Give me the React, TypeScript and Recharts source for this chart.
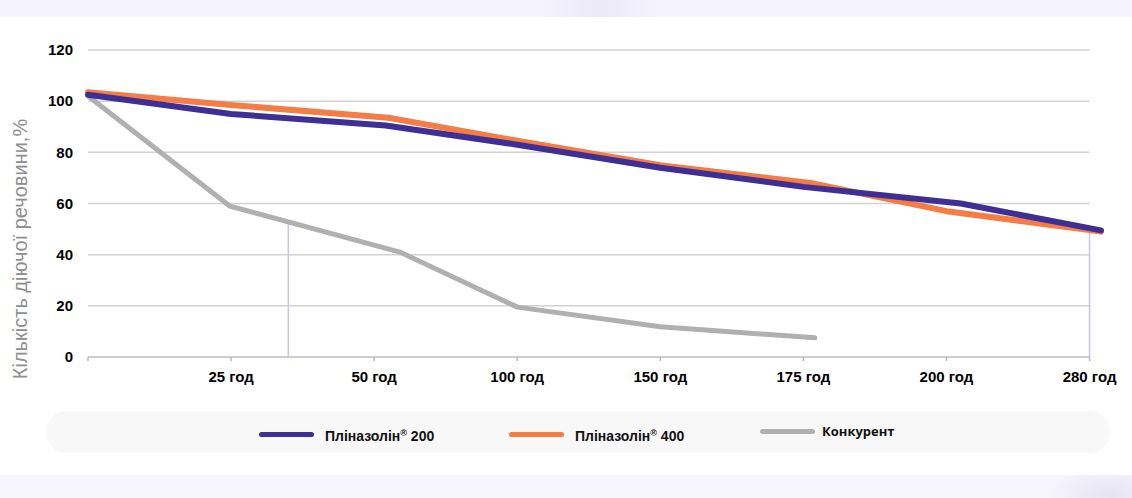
import React from 'react';
import { Legend, Line, LineChart, ReferenceLine, XAxis, YAxis } from 'recharts';

const xLabels = ['', '25 год', '50 год', '100 год', '150 год', '175 год', '200 год', '280 год'];
const xTicks = [0, 1, 2, 3, 4, 5, 6, 7];
const yTicks = [0, 20, 40, 60, 80, 100, 120];

const pl200X = [0, 1, 2.08, 3, 4, 5, 6.1, 7.08];
const pl200Y = [102.5, 95, 90.5, 83, 74, 66.5, 60, 49.5];
const pl400X = [0, 1, 2.1, 3, 4, 5.05, 6, 7.08];
const pl400Y = [103.5, 98.5, 93.5, 84.5, 75, 68, 57, 49];
const compX = [0, 0.99, 2.18, 3, 4, 5.08];
const compY = [102, 59, 41, 19.5, 11.8, 7.5];

// lavender markers: x position and height they reach
const markerX = [1.4, 7.0];
const markerY = [52.5, 49.6];

const toPoints = (xs: number[], ys: number[]) => xs.map((x, i) => ({ x, y: ys[i] }));

const series = [
  { key: 'comp', name: 'Конкурент', color: '#b0b0b0', width: 5, data: toPoints(compX, compY) },
  { key: 'p400', name: 'Пліназолін® 400', color: '#f47d45', width: 6, data: toPoints(pl400X, pl400Y) },
  { key: 'p200', name: 'Пліназолін® 200', color: '#3d2f93', width: 6, data: toPoints(pl200X, pl200Y) },
];

const legendOrder = ['p200', 'p400', 'comp'];
const legendLeft = [213, 463, 714];

function LegendBox() {
  return (
    <div
      style={{
        position: 'relative',
        height: 42,
        background: '#f8f8f8',
        borderRadius: 21,
      }}
    >
      {legendOrder.map((k, i) => {
        const s = series.find((d) => d.key === k)!;
        const [base, num] = s.name.includes('®') ? s.name.split('®') : [s.name, ''];
        const isComp = k === 'comp';
        return (
          <div
            key={k}
            style={{
              position: 'absolute',
              left: legendLeft[i],
              top: isComp ? 13 : 15,
              display: 'flex',
              alignItems: 'center',
              whiteSpace: 'nowrap',
            }}
          >
            <span
              style={{
                display: 'inline-block',
                width: 55,
                height: 5,
                borderRadius: 3,
                background: s.color,
                marginRight: isComp ? 7 : 11,
              }}
            />
            <span
              style={{
                fontFamily: isComp ? '"Open Sans", sans-serif' : '"Liberation Sans", Arial, sans-serif',
                fontWeight: 700,
                fontSize: isComp ? 13 : 14,
                color: '#111',
                lineHeight: '14px',
              }}
            >
              {base}
              {num !== '' && (
                <>
                  <sup style={{ fontSize: 9, verticalAlign: 5 }}>®</sup>
                  {num}
                </>
              )}
            </span>
          </div>
        );
      })}
    </div>
  );
}

const YLabel = () => (
  <text
    x={20}
    y={249}
    transform="rotate(-90, 20, 249)"
    textAnchor="middle"
    dominantBaseline="central"
    fill="#8e8e8e"
    fontSize={20}
    fontFamily='"Liberation Sans", Arial, sans-serif'
  >
    Кількість діючої речовини,%
  </text>
);

export default function App() {
  const tickFont = { fill: '#000', fontSize: 15, fontWeight: 700, fontFamily: '"Liberation Sans", Arial, sans-serif' };
  return (
    <div style={{ position: 'absolute', left: 0, top: 0, width: 1132, height: 498, background: '#fff', overflow: 'hidden' }}>
      <div
        style={{
          position: 'absolute',
          left: 0,
          top: 0,
          width: 1132,
          height: 17,
          background: 'radial-gradient(ellipse 60px 30px at 600px 8px, #ebe8f8, #f5f3fd)',
        }}
      />
      <div
        style={{
          position: 'absolute',
          left: 0,
          top: 475,
          width: 1132,
          height: 23,
          background: 'radial-gradient(ellipse 60px 30px at 1110px 20px, #e6e3f3, #f6f4fd)',
        }}
      />
      <div style={{ position: 'absolute', left: 0, top: 0 }}>
        <LineChart width={1132} height={498} margin={{ top: 50, right: 31, bottom: 69, left: 0 }}>
          <XAxis
            type="number"
            dataKey="x"
            domain={[0, 7.08]}
            ticks={xTicks}
            interval={0}
            tickFormatter={(v: number) => xLabels[v] ?? ''}
            axisLine={false}
            tickLine={{ stroke: '#b8b8b8', strokeWidth: 1.5 }}
            tickSize={4}
            tickMargin={10}
            height={30}
            tick={tickFont}
          />
          <YAxis
            type="number"
            domain={[0, 120]}
            ticks={yTicks}
            interval={0}
            width={88}
            axisLine={false}
            tickLine={false}
            tickSize={0}
            tickMargin={15}
            tick={tickFont}
          />
          {yTicks.map((t) => (
            <ReferenceLine
              key={'g' + t}
              segment={[
                { x: 0, y: t },
                { x: 7, y: t },
              ]}
              stroke={t === 0 ? '#bdbdbd' : '#d2d2d2'}
              strokeWidth={1.5}
            />
          ))}
          {markerX.map((mx, i) => (
            <ReferenceLine
              key={'m' + i}
              segment={[
                { x: mx, y: 0 },
                { x: mx, y: markerY[i] },
              ]}
              stroke="#c9c3f3"
              strokeWidth={1.5}
            />
          ))}
          {series.map((s) => (
            <Line
              key={s.key}
              data={s.data}
              dataKey="y"
              name={s.name}
              type="linear"
              stroke={s.color}
              strokeWidth={s.width}
              strokeLinecap="round"
              strokeLinejoin="round"
              dot={false}
              activeDot={false}
              isAnimationActive={false}
            />
          ))}
          <Legend
            verticalAlign="bottom"
            content={() => <LegendBox />}
            wrapperStyle={{ left: 46, bottom: 45, width: 1064, height: 42 }}
          />
          <YLabel />
        </LineChart>
      </div>
    </div>
  );
}
